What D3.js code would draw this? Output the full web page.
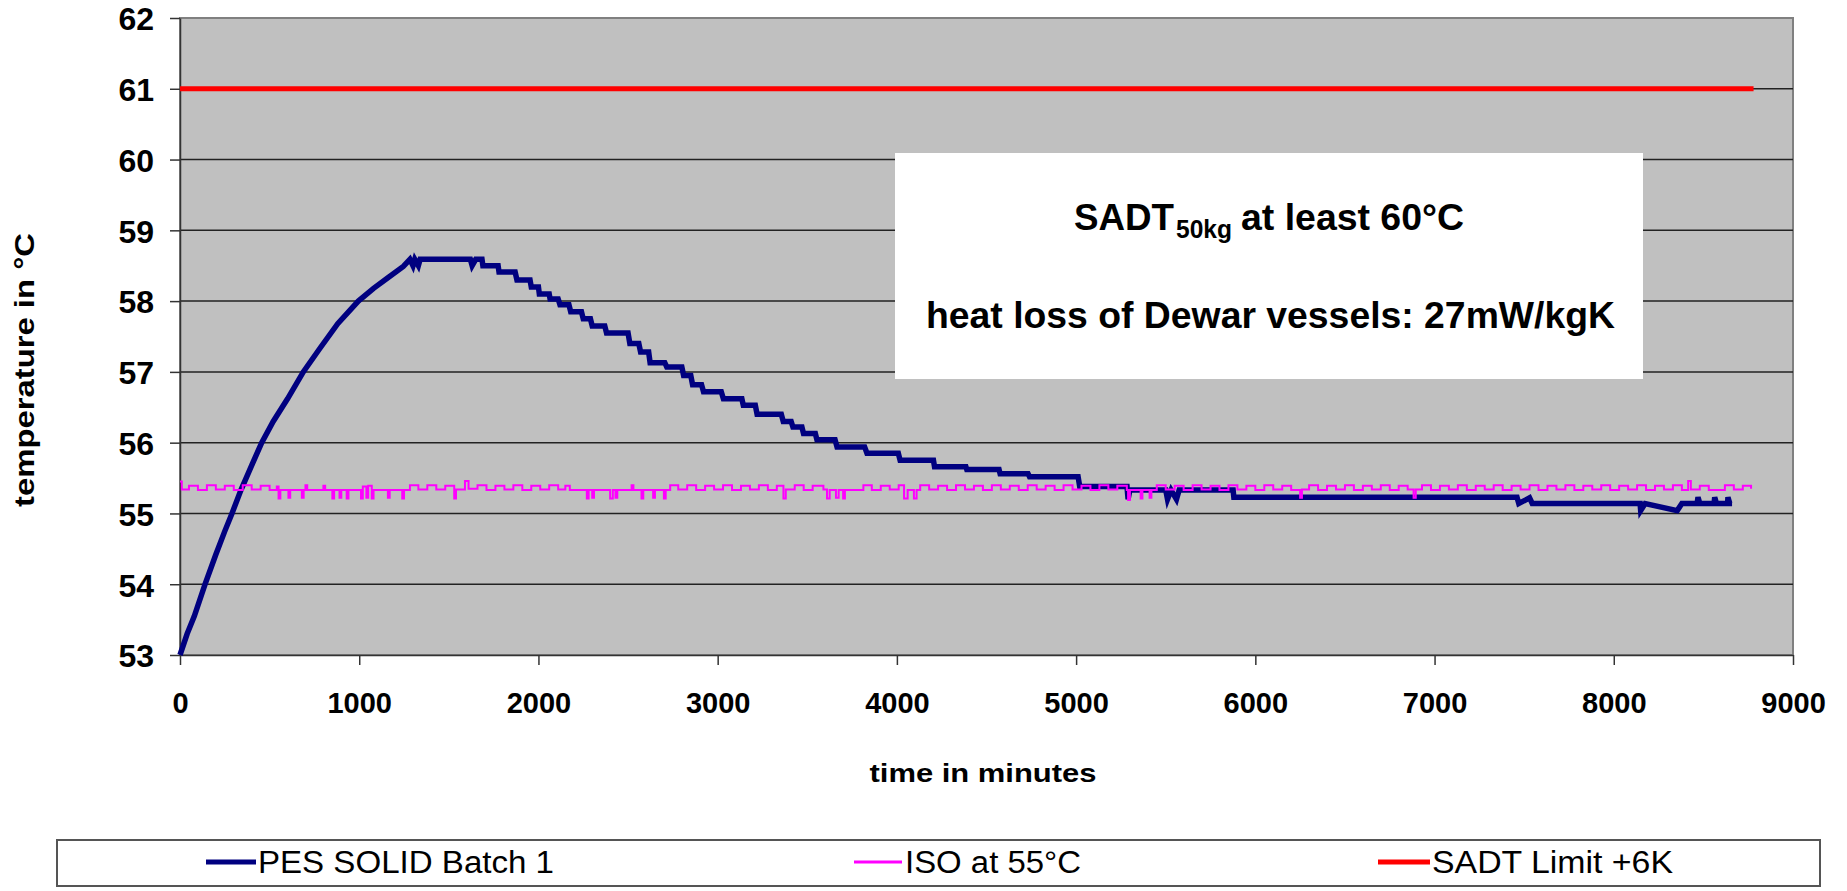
<!DOCTYPE html>
<html>
<head>
<meta charset="utf-8">
<script src="https://cdnjs.cloudflare.com/ajax/libs/d3/7.8.5/d3.min.js"></script>
<style>
  body { margin: 0; background: #fff; }
  svg { display: block; font-family: Arial, "Liberation Sans", sans-serif; }
  .axis text { font-weight: bold; fill: #000; }
  .axis line, .axis path { stroke: #333; stroke-width: 1.5; }
</style>
</head>
<body>
<svg class="chart" width="1847" height="891"></svg>
<script>
var xTicks = [0, 1000, 2000, 3000, 4000, 5000, 6000, 7000, 8000, 9000];
var yTicks = [53, 54, 55, 56, 57, 58, 59, 60, 61, 62];

// PES SOLID Batch 1 (minutes, degC)
var pesTime = [0, 40, 80, 140, 200, 250, 290, 340, 400, 456, 520, 600, 688, 780, 880, 995, 1080, 1160, 1246,
  1283, 1300, 1310, 1330, 1340, 1620, 1630, 1650, 1685, 1690, 1775, 1780, 1870, 1880, 1953, 1960,
  2000, 2005, 2060, 2065, 2110, 2120, 2170, 2180, 2240, 2250, 2290, 2300, 2370, 2380, 2500, 2510, 2560, 2570, 2615, 2623,
  2705, 2716, 2800, 2810, 2850, 2860, 2910, 2921, 3020, 3032, 3135, 3143, 3210, 3220, 3355, 3366, 3410, 3420, 3470, 3479,
  3545, 3554, 3655, 3666, 3820, 3833, 4008, 4018, 4204, 4210, 4385, 4390, 4570, 4576, 4732, 4740, 5011, 5020, 5284, 5290,
  5300, 5500, 5510, 5530, 5560, 5575, 5876, 5880, 7460, 7470, 7530, 7545, 8147, 8150, 8175, 8354, 8380, 8465, 8470, 8480,
  8560, 8563, 8573, 8635, 8637, 8647, 8660];
var pesTemp = [53.00, 53.30, 53.55, 54.00, 54.42, 54.75, 55.00, 55.33, 55.68, 56.00, 56.30, 56.62, 57.00, 57.33, 57.68, 58.00, 58.18, 58.33, 58.49,
  58.59, 58.50, 58.59, 58.50, 58.59, 58.59, 58.50, 58.59, 58.59, 58.50, 58.50, 58.41, 58.41, 58.30, 58.30, 58.20,
  58.20, 58.10, 58.10, 58.03, 58.03, 57.95, 57.95, 57.85, 57.85, 57.75, 57.75, 57.65, 57.65, 57.55, 57.55, 57.40, 57.40, 57.28, 57.28, 57.13,
  57.13, 57.07, 57.07, 56.95, 56.95, 56.82, 56.82, 56.72, 56.72, 56.62, 56.62, 56.53, 56.53, 56.40, 56.40, 56.30, 56.30, 56.22, 56.22, 56.13,
  56.13, 56.04, 56.04, 55.94, 55.94, 55.85, 55.85, 55.75, 55.75, 55.66, 55.66, 55.62, 55.62, 55.56, 55.56, 55.52, 55.52, 55.38, 55.38, 55.20,
  55.33, 55.33, 55.20, 55.33, 55.20, 55.33, 55.33, 55.23, 55.23, 55.14, 55.22, 55.14, 55.14, 55.04, 55.14, 55.04, 55.14, 55.14, 55.23, 55.14,
  55.14, 55.23, 55.14, 55.14, 55.23, 55.14, 55.14];

// ISO at 55°C (minutes, degC)
var isoTime = [0, 10, 50, 100, 150, 200, 250, 300, 350, 400, 450, 500, 540,
  550, 560, 605, 615, 680, 690, 700, 710, 800, 810, 850, 860, 890, 900, 930, 940, 1010, 1020, 1040, 1050, 1070, 1080, 1160, 1170, 1240, 1250,
  1283, 1330, 1380, 1430, 1480, 1530, 1540, 1590, 1600, 1610, 1660, 1710, 1760, 1810, 1860, 1910, 1960, 2010, 2060, 2110, 2150, 2175,
  2270, 2280, 2300, 2310, 2400, 2415, 2430, 2440, 2520, 2530, 2575, 2585, 2640, 2650, 2700, 2710, 2735,
  2780, 2830, 2880, 2930, 2980, 3030, 3080, 3130, 3180, 3230, 3280, 3330, 3367, 3380, 3430, 3480, 3530, 3590,
  3610, 3625, 3660, 3675, 3700, 3710, 3813, 3860, 3910, 3960, 4010, 4040, 4060, 4095, 4110,
  4130, 4180, 4230, 4280, 4330, 4380, 4430, 4480, 4530, 4580, 4630, 4680, 4730, 4780, 4830, 4880, 4930, 4980, 5030, 5080, 5130, 5180, 5230, 5283,
  5290, 5300, 5360, 5370, 5410, 5420, 5450, 5500, 5550, 5600, 5650, 5700, 5750, 5800, 5850, 5900, 5950, 6000, 6050, 6100, 6150, 6200,
  6250, 6260, 6300, 6350, 6400, 6450, 6500, 6550, 6600, 6650, 6700, 6750, 6800, 6850, 6883, 6895, 6930, 6980, 7030, 7080, 7130, 7180,
  7230, 7280, 7330, 7380, 7430, 7480, 7530, 7580, 7630, 7680, 7730, 7780, 7830, 7880, 7930, 7980, 8030, 8080, 8130, 8180, 8230, 8280,
  8330, 8380, 8415, 8430, 8480, 8530, 8594, 8620, 8670, 8720, 8766];
var isoTemp = [55.45, 55.34, 55.39, 55.33, 55.40, 55.34, 55.39, 55.33, 55.40, 55.34, 55.39, 55.33, 55.38,
  55.21, 55.33, 55.22, 55.33, 55.22, 55.33, 55.40, 55.33, 55.39, 55.33, 55.21, 55.33, 55.22, 55.33, 55.21, 55.33, 55.21, 55.38, 55.22, 55.39, 55.21, 55.33, 55.22, 55.33, 55.21, 55.33,
  55.40, 55.34, 55.40, 55.34, 55.39, 55.21, 55.34, 55.46, 55.46, 55.35, 55.40, 55.33, 55.39, 55.34, 55.40, 55.33, 55.39, 55.34, 55.40, 55.34, 55.39, 55.33,
  55.21, 55.33, 55.22, 55.33, 55.21, 55.33, 55.22, 55.33, 55.40, 55.33, 55.21, 55.33, 55.22, 55.33, 55.21, 55.33, 55.40,
  55.34, 55.40, 55.33, 55.39, 55.34, 55.40, 55.33, 55.39, 55.34, 55.40, 55.33, 55.39, 55.21, 55.34, 55.40, 55.33, 55.39, 55.34,
  55.21, 55.33, 55.22, 55.33, 55.21, 55.33, 55.40, 55.33, 55.39, 55.34, 55.40, 55.21, 55.33, 55.21, 55.33,
  55.40, 55.34, 55.39, 55.33, 55.40, 55.34, 55.39, 55.33, 55.40, 55.34, 55.39, 55.33, 55.40, 55.34, 55.39, 55.33, 55.40, 55.34, 55.39, 55.33, 55.40, 55.34, 55.39, 55.33,
  55.19, 55.33, 55.21, 55.33, 55.22, 55.33, 55.40, 55.34, 55.39, 55.33, 55.40, 55.34, 55.39, 55.33, 55.40, 55.34, 55.39, 55.33, 55.40, 55.34, 55.39, 55.33,
  55.22, 55.34, 55.40, 55.33, 55.39, 55.34, 55.40, 55.33, 55.39, 55.34, 55.40, 55.33, 55.39, 55.34, 55.22, 55.34, 55.40, 55.33, 55.39, 55.34, 55.40, 55.33,
  55.39, 55.34, 55.40, 55.33, 55.39, 55.34, 55.40, 55.33, 55.39, 55.34, 55.40, 55.33, 55.39, 55.34, 55.40, 55.33, 55.39, 55.34, 55.40, 55.33, 55.39, 55.34,
  55.40, 55.33, 55.46, 55.34, 55.39, 55.33, 55.33, 55.40, 55.34, 55.39, 55.35];

// SADT Limit +6K
var limitTime = [0, 8780];
var limitTemp = [61, 61];

var seriesNames = ["PES SOLID Batch 1", "ISO at 55°C", "SADT Limit +6K"];

var chart = d3.select(".chart");

var plotLeft = 180, plotRight = 1793, plotTop = 18, plotBottom = 655;

var x = d3.scaleLinear().domain([0, 9000]).range([plotLeft, plotRight]);
var y = d3.scaleLinear().domain([53, 62]).range([plotBottom, plotTop]);

// plot area
chart.append("rect")
  .attr("x", plotLeft).attr("y", plotTop)
  .attr("width", plotRight - plotLeft).attr("height", plotBottom - plotTop)
  .attr("fill", "#c0c0c0")
  .attr("stroke", "#808080")
  .attr("stroke-width", 2);

// gridlines
chart.append("g")
  .selectAll("line")
  .data(yTicks.slice(1, -1))
  .enter().append("line")
    .attr("x1", plotLeft).attr("x2", plotRight)
    .attr("y1", function(d){ return y(d); })
    .attr("y2", function(d){ return y(d); })
    .attr("stroke", "#222")
    .attr("stroke-width", 1.5);

var yAxis = chart.append("g")
  .attr("class", "axis")
  .attr("transform", "translate(" + plotLeft + ",0)")
  .call(d3.axisLeft(y).tickValues(yTicks).tickSize(10).tickSizeOuter(0).tickPadding(16).tickFormat(d3.format("d")));
yAxis.selectAll("text")
  .attr("dy", "0.37em")
  .style("font-size", "32px");

var xAxis = chart.append("g")
  .attr("class", "axis")
  .attr("transform", "translate(0," + plotBottom + ")")
  .call(d3.axisBottom(x).tickValues(xTicks).tickSize(10).tickSizeOuter(0).tickFormat(d3.format("d")));
xAxis.selectAll("text")
  .attr("dy", "0")
  .attr("y", 58)
  .style("font-size", "29px");

// series
function lineFor(times, temps, curve) {
  return d3.line()
    .curve(curve || d3.curveLinear)
    .x(function(d, i){ return x(times[i]); })
    .y(function(d){ return y(d); })(temps);
}

chart.append("path")
  .attr("d", lineFor(pesTime, pesTemp))
  .attr("fill", "none")
  .attr("stroke", "#000080")
  .attr("stroke-width", 5.5);

// the logger only records steps, so draw it as steps
chart.append("path")
  .attr("d", lineFor(isoTime, isoTemp, d3.curveStepAfter))
  .attr("fill", "none")
  .attr("stroke", "#ff00ff")
  .attr("stroke-width", 2);

chart.append("path")
  .attr("d", lineFor(limitTime, limitTemp))
  .attr("fill", "none")
  .attr("stroke", "#ff0000")
  .attr("stroke-width", 5);

// axis titles
chart.append("text")
  .attr("x", 983).attr("y", 782)
  .attr("text-anchor", "middle")
  .attr("textLength", 227)
  .attr("lengthAdjust", "spacingAndGlyphs")
  .style("font-size", "26px")
  .style("font-weight", "bold")
  .text("time in minutes");

chart.append("text")
  .attr("transform", "translate(34,370) rotate(-90)")
  .attr("text-anchor", "middle")
  .attr("textLength", 274)
  .attr("lengthAdjust", "spacingAndGlyphs")
  .style("font-size", "27px")
  .style("font-weight", "bold")
  .text("temperature in °C");

// annotation box
chart.append("rect")
  .attr("x", 895).attr("y", 153)
  .attr("width", 748).attr("height", 226)
  .attr("fill", "#fff");

chart.append("text")
  .attr("x", 1074).attr("y", 230)
  .attr("textLength", 100).attr("lengthAdjust", "spacingAndGlyphs")
  .style("font-size", "37px").style("font-weight", "bold")
  .text("SADT");
chart.append("text")
  .attr("x", 1176).attr("y", 238)
  .attr("textLength", 56).attr("lengthAdjust", "spacingAndGlyphs")
  .style("font-size", "25px").style("font-weight", "bold")
  .text("50kg");
chart.append("text")
  .attr("x", 1241).attr("y", 230)
  .attr("textLength", 223).attr("lengthAdjust", "spacingAndGlyphs")
  .style("font-size", "37px").style("font-weight", "bold")
  .text("at least 60°C");
chart.append("text")
  .attr("x", 926).attr("y", 328)
  .attr("textLength", 689).attr("lengthAdjust", "spacingAndGlyphs")
  .style("font-size", "37px").style("font-weight", "bold")
  .text("heat loss of Dewar vessels: 27mW/kgK");

// legend
chart.append("rect")
  .attr("x", 57).attr("y", 840)
  .attr("width", 1763).attr("height", 46)
  .attr("fill", "#fff")
  .attr("stroke", "#555")
  .attr("stroke-width", 2);

var legendItems = [
  { x1: 206, x2: 256, tx: 258, len: 296, color: "#000080", w: 5 },
  { x1: 854, x2: 902, tx: 905, len: 176, color: "#ff00ff", w: 3 },
  { x1: 1378, x2: 1430, tx: 1432, len: 241, color: "#ff0000", w: 5 }
];

var legend = chart.selectAll(".legendItem")
  .data(legendItems)
  .enter().append("g")
    .attr("class", "legendItem");

legend.append("line")
  .attr("x1", function(d){ return d.x1; })
  .attr("x2", function(d){ return d.x2; })
  .attr("y1", 862).attr("y2", 862)
  .attr("stroke", function(d){ return d.color; })
  .attr("stroke-width", function(d){ return d.w; });

legend.append("text")
  .attr("x", function(d){ return d.tx; })
  .attr("y", 873)
  .attr("textLength", function(d){ return d.len; })
  .attr("lengthAdjust", "spacingAndGlyphs")
  .style("font-size", "31px")
  .text(function(d, i){ return seriesNames[i]; });
</script>
</body>
</html>
